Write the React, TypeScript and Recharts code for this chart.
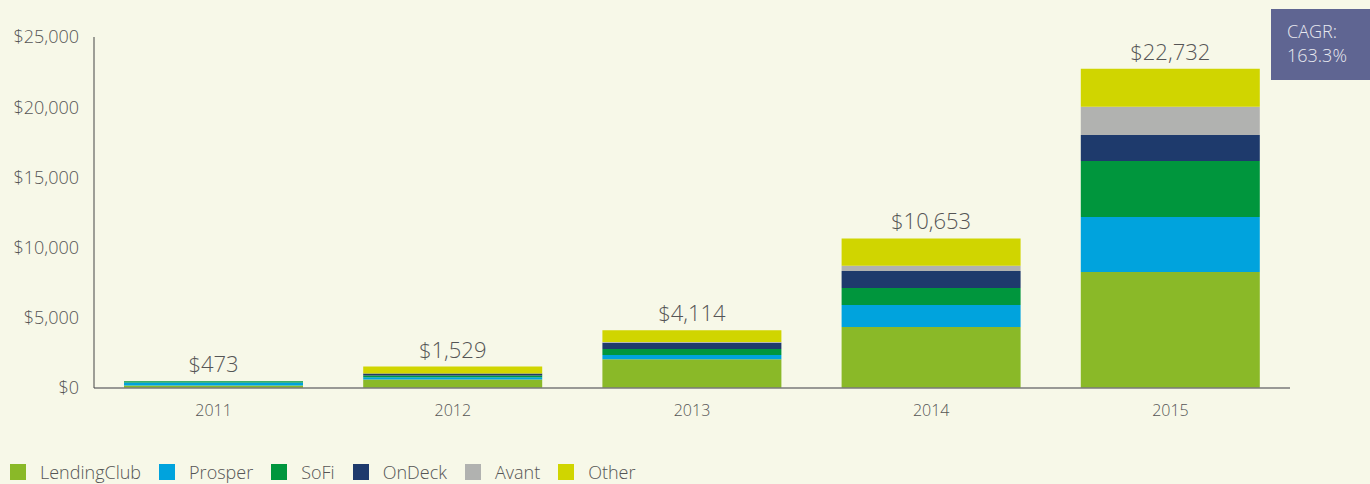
import { BarChart, Bar, XAxis, YAxis, LabelList } from 'recharts';

const years = ['2011', '2012', '2013', '2014', '2015'];
const lendingClub = [180, 600, 2044, 4345, 8262];
const prosper = [218, 165, 306, 1567, 3917];
const sofi = [75, 120, 428, 1211, 3990];
const onDeck = [0, 140, 448, 1210, 1850];
const avant = [0, 0, 50, 378, 2017];
const other = [0, 504, 838, 1942, 2696];
const totals = ['$473', '$1,529', '$4,114', '$10,653', '$22,732'];
const yTicks = [0, 5000, 10000, 15000, 20000, 25000];

const series = [
    { key: 'lendingClub', name: 'LendingClub', color: '#8ab928', values: lendingClub },
    { key: 'prosper', name: 'Prosper', color: '#00a3dd', values: prosper },
    { key: 'sofi', name: 'SoFi', color: '#00963d', values: sofi },
    { key: 'onDeck', name: 'OnDeck', color: '#1e3a6c', values: onDeck },
    { key: 'avant', name: 'Avant', color: '#b1b2b0', values: avant },
    { key: 'other', name: 'Other', color: '#d0d500', values: other },
];

const data = years.map((year, i) => {
    const row: any = { year, total: totals[i] };
    series.forEach(s => { row[s.key] = s.values[i]; });
    return row;
});

const font = '"Open Sans", sans-serif';
const bg = '#f7f8e8';

const fmtDollar = (v: number) => '$' + v.toLocaleString('en-US');

// total label goes on the topmost non-empty segment of each stack
const isTopSegment = (seriesIdx: number, i: number) =>
    i >= 0 && series[seriesIdx].values[i] > 0 && series.slice(seriesIdx + 1).every(s => !s.values[i]);

const makeTotalLabel = (seriesIdx: number) => (props: any) => {
    const { x, y, width, value } = props;
    // zero-height bars get dropped, so look the year up by its total
    if (!isTopSegment(seriesIdx, totals.indexOf(value))) return null;
    return (
        <text x={x + width / 2} y={y - 9} textAnchor="middle" fontSize={22} fill="#555" fontFamily={font} fontWeight={300}>
            {value}
        </text>
    );
};

export default function App() {
    return (
        <div style={{ position: 'relative', width: 1370, height: 484, background: bg, fontFamily: font }}>
            <style>{`body{margin:0;background:${bg};}`}</style>
            <BarChart width={1370} height={484} data={data} margin={{ top: 37, right: 80, left: 0, bottom: 0 }} barCategoryGap={30}>
                <XAxis
                    dataKey="year"
                    height={96}
                    tickLine={false}
                    tickSize={0}
                    tickMargin={17}
                    axisLine={{ stroke: '#7a7a7a', strokeWidth: 1.5 }}
                    tick={{ fontSize: 16, fill: '#555', fontFamily: font, fontWeight: 300 }}
                />
                <YAxis
                    width={94}
                    domain={[0, 25000]}
                    ticks={yTicks}
                    tickFormatter={fmtDollar}
                    tickLine={false}
                    tickSize={0}
                    tickMargin={15}
                    axisLine={{ stroke: '#444', strokeWidth: 1 }}
                    tick={{ fontSize: 18, fill: '#555', fontFamily: font, fontWeight: 300 }}
                />
                {series.map((s, idx) => (
                    <Bar key={s.key} dataKey={s.key} name={s.name} stackId="a" fill={s.color} isAnimationActive={false}>
                        <LabelList dataKey="total" content={makeTotalLabel(idx)} />
                    </Bar>
                ))}
            </BarChart>

            {/* legend */}
            <div style={{ position: 'absolute', left: 10, top: 460, display: 'flex', alignItems: 'center', fontSize: 18, color: '#555', fontWeight: 300 }}>
                {series.map(s => (
                    <div key={s.key} style={{ display: 'flex', alignItems: 'center', marginRight: 18 }}>
                        <span style={{ width: 16, height: 16, background: s.color, display: 'inline-block', marginRight: 14 }} />
                        <span>{s.name}</span>
                    </div>
                ))}
            </div>

            {/* CAGR box */}
            <div style={{ position: 'absolute', left: 1271, top: 9, width: 99, height: 71, background: '#5f6592', color: '#e8e9f0', fontSize: 18, lineHeight: '24px', fontWeight: 300, boxSizing: 'border-box', padding: '10px 0 0 16px' }}>
                CAGR:<br />163.3%
            </div>
        </div>
    );
}
